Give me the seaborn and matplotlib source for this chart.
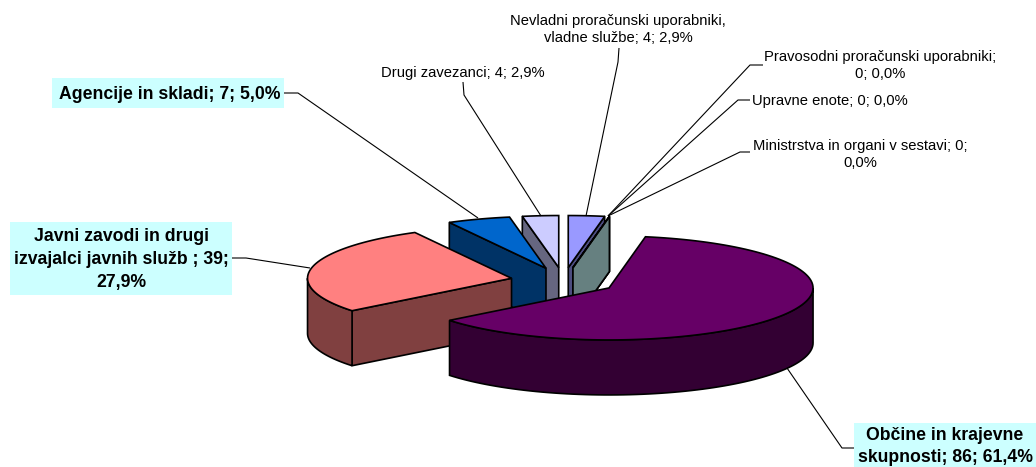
import numpy as np
import matplotlib
matplotlib.use("Agg")
import matplotlib.pyplot as plt
from matplotlib.patches import Polygon
from matplotlib.colors import to_rgb
import seaborn as sns

# chart data, clockwise from 12 o'clock
values = [4, 0, 0, 0, 86, 39, 7, 4]
labels = [
    "Nevladni proračunski uporabniki,\nvladne službe; 4; 2,9%",
    "Pravosodni proračunski uporabniki;\n0; 0,0%",
    "Upravne enote; 0; 0,0%",
    "Ministrstva in organi v sestavi; 0;\n0,0%",
    "Občine in krajevne\nskupnosti; 86; 61,4%",
    "Javni zavodi in drugi\nizvajalci javnih služb ; 39;\n27,9%",
    "Agencije in skladi; 7; 5,0%",
    "Drugi zavezanci; 4; 2,9%",
]
hex_colors = ["#9999FF", "#993366", "#FFFFCC", "#CCFFFF", "#660066", "#FF8080", "#0066CC", "#CCCCFF"]

# layout of the fake 3d pie, in pixels
CX, CY = 563.5, 281
RX, RY = 204, 52
DEPTH = 55
EXPLODE = 0.26
LINE = 1.2

# label placement: centre x, centre y, bold box or not
label_place = [
    (618, 29.5, False),
    (880, 65.5, False),
    (830, 101.5, False),
    (860, 154.5, False),
    (945, 446.5, True),
    (121, 259.5, True),
    (170, 94.5, True),
    (463, 72.5, False),
]
boxes = {
    4: (854, 423, 1036, 467),
    5: (10, 222, 232, 295),
    6: (52, 78, 284, 108),
}
leaders = [
    [(619, 48), (618, 62), (586, 216)],
    [(763, 65), (750, 65), (608, 216)],
    [(750, 100), (738, 100), (608, 216)],
    [(750, 152), (740, 152), (608, 216)],
    [(854, 448), (842, 448), (787, 368)],
    [(232, 258), (246, 258), (310, 268)],
    [(284, 93), (298, 93), (478, 218)],
    [(463, 82), (464, 95), (541, 216)],
]

sns.set_theme(style="white")
plt.rcParams["font.family"] = ["Liberation Sans", "DejaVu Sans"]
palette = sns.color_palette(hex_colors)

fig = plt.figure(figsize=(10.36, 4.67), dpi=100)
ax = fig.add_axes([0, 0, 1, 1])
ax.set_xlim(0, 1036)
ax.set_ylim(467, 0)
ax.axis("off")


def rim(cx, cy, t):
    t = np.radians(t)
    return np.column_stack([cx + RX * np.sin(t), cy - RY * np.cos(t)])


def draw_wall(cx, cy, t, color, z):
    p = rim(cx, cy, np.array([t]))[0]
    pts = [(cx, cy), p, (p[0], p[1] + DEPTH), (cx, cy + DEPTH)]
    ax.add_patch(Polygon(pts, closed=True, fc=color, ec="black", lw=LINE, zorder=z, joinstyle="round"))


total = sum(values)
edges = np.concatenate([[0], np.cumsum(values)]) / total * 360
slices = []
for i in range(len(values)):
    slices.append((i, edges[i], edges[i + 1]))
# paint the slices furthest from the viewer first
slices.sort(key=lambda s: -abs((s[1] + s[2]) / 2 - 180))

z = 2
for i, t0, t1 in slices:
    mid = np.radians((t0 + t1) / 2)
    cx = CX + EXPLODE * RX * np.sin(mid)
    cy = CY - EXPLODE * RY * np.cos(mid)
    top = palette[i]
    side = tuple(np.array(to_rgb(top)) * 0.5)

    if 0 < t1 < 180:
        draw_wall(cx, cy, t1, side, z)
    if 180 < t0 < 360:
        draw_wall(cx, cy, t0, side, z)

    # outer curved wall, only the front half of the ellipse shows
    a0, a1 = max(t0, 90), min(t1, 270)
    if a1 > a0:
        arc = rim(cx, cy, np.linspace(a0, a1, 80))
        low = arc[::-1] + [0, DEPTH]
        ax.add_patch(Polygon(np.vstack([arc, low]), closed=True, fc=side, ec="black", lw=LINE, zorder=z))

    arc = rim(cx, cy, np.linspace(t0, t1, 120))
    ax.add_patch(Polygon(np.vstack([[cx, cy], arc]), closed=True, fc=top, ec="black", lw=LINE, zorder=z))
    z += 1

for pts in leaders:
    xs, ys = zip(*pts)
    ax.plot(xs, ys, color="black", lw=0.8, zorder=20, solid_capstyle="butt")

for i, (x0, y0, x1, y1) in boxes.items():
    ax.fill([x0, x1, x1, x0], [y0, y0, y1, y1], color="#CCFFFF", lw=0, zorder=21)

for text, (x, y, bold) in zip(labels, label_place):
    ax.text(x, y, text, ha="center", va="center", ma="center", zorder=22, color="black",
            fontsize=12.7 if bold else 10.6, fontweight="bold" if bold else "normal",
            linespacing=1.43 if bold else 1.24)

fig.savefig("out.png", dpi=100, facecolor="white")
